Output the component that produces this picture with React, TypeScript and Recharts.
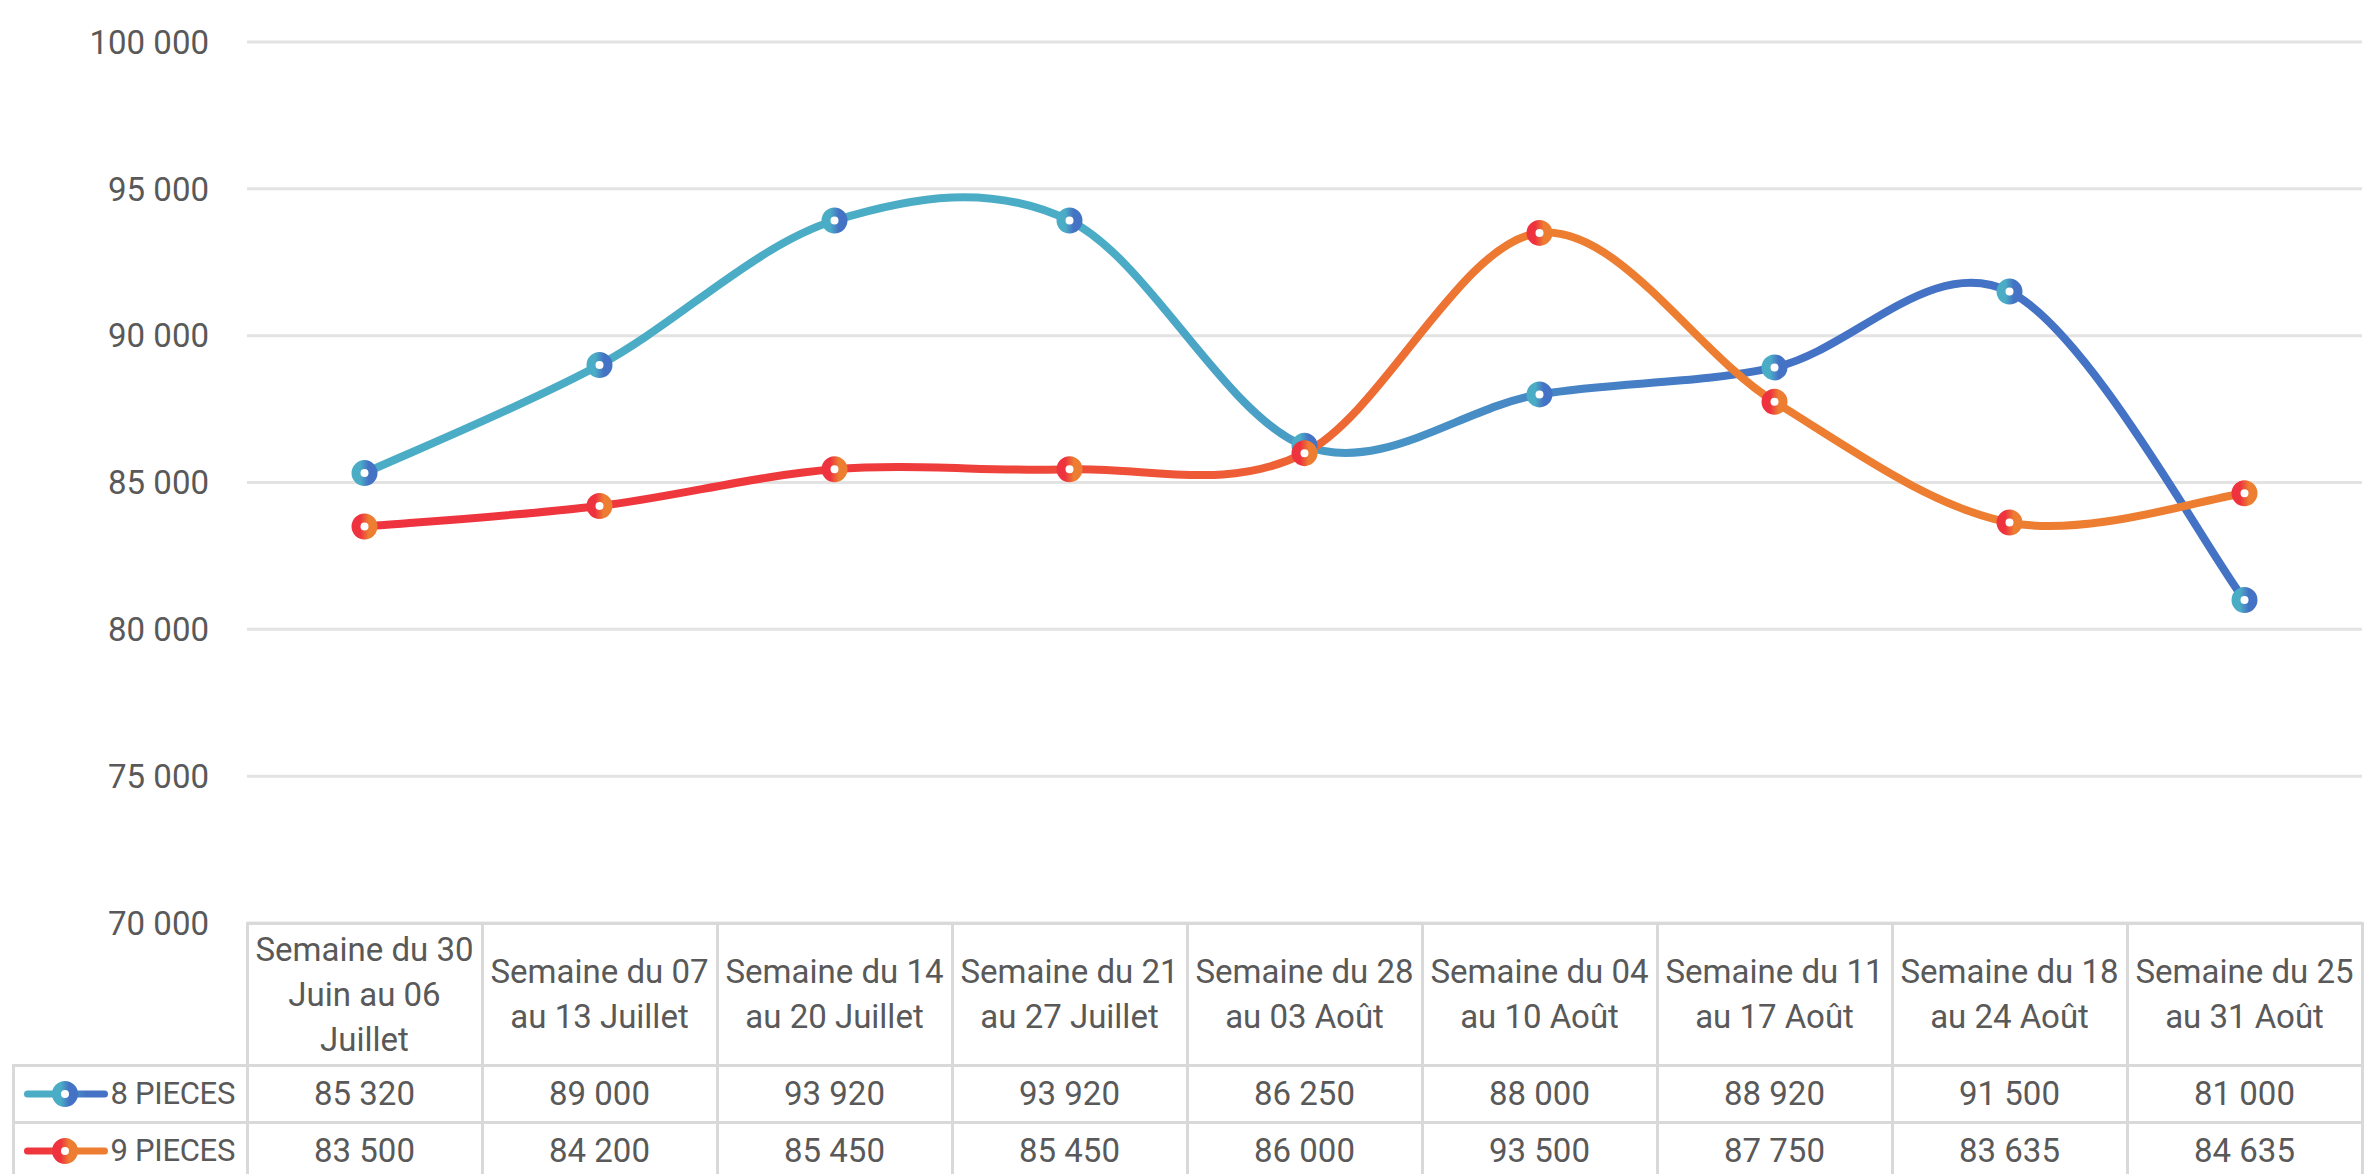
import React from 'react'
import { LineChart, Line, XAxis, YAxis, CartesianGrid } from 'recharts'

const categories = [
  'Semaine du 30\nJuin au 06\nJuillet',
  'Semaine du 07\nau 13 Juillet',
  'Semaine du 14\nau 20 Juillet',
  'Semaine du 21\nau 27 Juillet',
  'Semaine du 28\nau 03 Août',
  'Semaine du 04\nau 10 Août',
  'Semaine du 11\nau 17 Août',
  'Semaine du 18\nau 24 Août',
  'Semaine du 25\nau 31 Août',
]
const pieces8 = [85320, 89000, 93920, 93920, 86250, 88000, 88920, 91500, 81000]
const pieces9 = [83500, 84200, 85450, 85450, 86000, 93500, 87750, 83635, 84635]
const seriesNames = ['8 PIECES', '9 PIECES']
const yTicks = [70000, 75000, 80000, 85000, 90000, 95000, 100000]

const data = categories.map((name, i) => ({ name, p8: pieces8[i], p9: pieces9[i] }))

// layout
const W = 2375
const H = 1174
const PLOT_LEFT = 247
const PLOT_RIGHT = 2362
const PLOT_TOP = 42
const PLOT_BOTTOM = 923
const COL_W = (PLOT_RIGHT - PLOT_LEFT) / categories.length
const HEADER_H = 142
const ROW_H = 57
const BORDER = '#D9D9D9'
const GRID = '#E3E3E3'
const TEXT = '#595959'
const FONT = "Roboto, 'Noto Sans', sans-serif"
const FS = 33

const fmt = (n: number) => String(n).replace(/\B(?=(\d{3})+(?!\d))/g, ' ')

// Excel-like smoothing (Catmull-Rom as cubic beziers)
function excelCurve(context: any) {
  let pts: number[][] = []
  return {
    areaStart() {},
    areaEnd() {},
    lineStart() {
      pts = []
    },
    point(x: number, y: number) {
      pts.push([+x, +y])
    },
    lineEnd() {
      const n = pts.length
      if (!n) return
      context.moveTo(pts[0][0], pts[0][1])
      for (let i = 0; i < n - 1; i++) {
        const p0 = pts[Math.max(i - 1, 0)]
        const p1 = pts[i]
        const p2 = pts[i + 1]
        const p3 = pts[Math.min(i + 2, n - 1)]
        context.bezierCurveTo(
          p1[0] + (p2[0] - p0[0]) / 6,
          p1[1] + (p2[1] - p0[1]) / 6,
          p2[0] - (p3[0] - p1[0]) / 6,
          p2[1] - (p3[1] - p1[1]) / 6,
          p2[0],
          p2[1]
        )
      }
    },
  }
}

const Ring = (props: any) => {
  const { cx, cy, grad, index } = props
  if (cx == null || cy == null) return <g key={index} />
  return <circle key={index} cx={cx} cy={cy} r={8.5} fill="#fff" stroke={`url(#${grad})`} strokeWidth={9} />
}

const LegendKey = ({ line, mark }: { line: string; mark: string }) => (
  <svg width={96} height={30} style={{ display: 'block', flex: 'none' }}>
    <rect x={9} y={11.5} width={84} height={7} rx={3.5} fill={`url(#${line})`} />
    <circle cx={50} cy={15} r={8.5} fill="#fff" stroke={`url(#${mark})`} strokeWidth={9} />
  </svg>
)

export default function App() {
  const cell = (left: number, top: number, width: number, height: number): React.CSSProperties => ({
    position: 'absolute',
    left: left - 1.5,
    top: top - 1.5,
    width: width + 3,
    height: height + 3,
    boxSizing: 'border-box',
    border: `3px solid ${BORDER}`,
    display: 'flex',
    alignItems: 'center',
    justifyContent: 'center',
    textAlign: 'center',
    color: TEXT,
    fontSize: FS,
    fontFamily: FONT,
  })

  const rows = [pieces8, pieces9]
  const keys = [
    { line: 'g8', mark: 'm8' },
    { line: 'g9', mark: 'm9' },
  ]

  return (
    <div style={{ position: 'absolute', left: 0, top: 0, width: W, height: H, overflow: 'hidden', background: '#fff' }}>
      <svg width={0} height={0} style={{ position: 'absolute' }}>
        <defs>
          <linearGradient id="g8" x1="0" y1="0" x2="1" y2="0">
            <stop offset="0" stopColor="#4BACC6" />
            <stop offset="0.4" stopColor="#4BACC6" />
            <stop offset="0.75" stopColor="#4472C4" />
            <stop offset="1" stopColor="#4472C4" />
          </linearGradient>
          <linearGradient id="g9" x1="0" y1="0" x2="1" y2="0">
            <stop offset="0" stopColor="#EE333F" />
            <stop offset="0.3" stopColor="#EE3B3B" />
            <stop offset="0.62" stopColor="#ED7D31" />
            <stop offset="1" stopColor="#ED7D31" />
          </linearGradient>
          <linearGradient id="m8" x1="0" y1="0" x2="1" y2="0">
            <stop offset="0.25" stopColor="#4BACC6" />
            <stop offset="0.75" stopColor="#4472C4" />
          </linearGradient>
          <linearGradient id="m9" x1="0" y1="0" x2="1" y2="0">
            <stop offset="0.25" stopColor="#EE333F" />
            <stop offset="0.75" stopColor="#ED7D31" />
          </linearGradient>
        </defs>
      </svg>

      <div style={{ position: 'absolute', left: 0, top: 0 }}>
        <LineChart
          width={W}
          height={H}
          data={data}
          margin={{ top: PLOT_TOP, right: W - PLOT_RIGHT, bottom: H - PLOT_BOTTOM, left: 0 }}
        >
          <CartesianGrid vertical={false} stroke={GRID} strokeWidth={3} />
          <XAxis dataKey="name" hide padding={{ left: COL_W / 2, right: COL_W / 2 }} />
          <YAxis
            width={PLOT_LEFT}
            domain={[70000, 100000]}
            ticks={yTicks}
            interval={0}
            axisLine={false}
            tickLine={false}
            tickMargin={32}
            tickFormatter={fmt}
            tick={{ fill: TEXT, fontSize: FS, fontFamily: FONT }}
          />
          <Line
            dataKey="p8"
            name={seriesNames[0]}
            type={excelCurve as any}
            stroke="url(#g8)"
            strokeWidth={8}
            strokeLinecap="round"
            dot={(p: any) => <Ring {...p} key={p.index} grad="m8" />}
            activeDot={false}
            isAnimationActive={false}
          />
          <Line
            dataKey="p9"
            name={seriesNames[1]}
            type={excelCurve as any}
            stroke="url(#g9)"
            strokeWidth={8}
            strokeLinecap="round"
            dot={(p: any) => <Ring {...p} key={p.index} grad="m9" />}
            activeDot={false}
            isAnimationActive={false}
          />
        </LineChart>
      </div>

      {categories.map((c, i) => (
        <div key={'h' + i} style={{ ...cell(PLOT_LEFT + i * COL_W, PLOT_BOTTOM, COL_W, HEADER_H), whiteSpace: 'pre-line', lineHeight: '45px' }}>
          {c}
        </div>
      ))}

      {rows.map((vals, r) => (
        <React.Fragment key={'r' + r}>
          <div style={{ ...cell(13, PLOT_BOTTOM + HEADER_H + r * ROW_H, PLOT_LEFT - 13, ROW_H), justifyContent: 'flex-start', whiteSpace: 'nowrap', overflow: 'hidden' }}>
            <LegendKey line={keys[r].line} mark={keys[r].mark} />
            <span style={{ fontSize: 31, letterSpacing: -0.3 }}>{seriesNames[r]}</span>
          </div>
          {vals.map((v, i) => (
            <div key={'c' + r + '_' + i} style={cell(PLOT_LEFT + i * COL_W, PLOT_BOTTOM + HEADER_H + r * ROW_H, COL_W, ROW_H)}>
              {fmt(v)}
            </div>
          ))}
        </React.Fragment>
      ))}
    </div>
  )
}
